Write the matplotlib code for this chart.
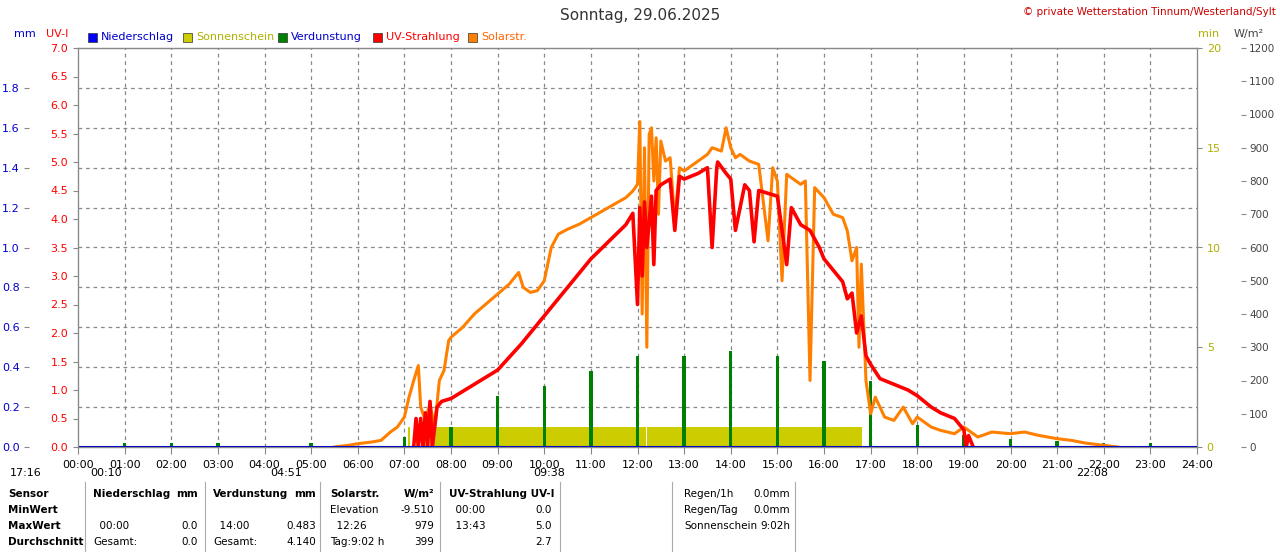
import numpy as np
import matplotlib
matplotlib.use("Agg")
import matplotlib.pyplot as plt

# ---- data (hours of day) ----
hours = list(range(25))
hour_labels = [f"{h:02d}:00" for h in hours]

evap_t = [1, 2, 3, 5, 7, 8, 9, 10, 11, 12, 13, 14, 15, 16, 17, 18, 19, 20, 21, 22, 23]
evap_mm = [0.02, 0.02, 0.02, 0.02, 0.05, 0.10, 0.255, 0.305, 0.38, 0.455, 0.455, 0.483,
           0.455, 0.43, 0.33, 0.11, 0.06, 0.04, 0.03, 0.02, 0.02]

sun_start = [7.08, 7.25, 7.38, 7.55, 12.2]
sun_end = [7.13, 7.33, 7.52, 12.18, 16.82]
sun_min = [1, 1, 1, 1, 1]

solar_t = [5.5, 5.8, 6.0, 6.3, 6.5, 6.7, 6.85, 7.0, 7.1, 7.2, 7.3, 7.35, 7.45, 7.55, 7.65,
           7.75, 7.85, 7.95, 8.0, 8.25, 8.5, 8.75, 9.0, 9.25, 9.45, 9.55, 9.7, 9.85, 10.0,
           10.15, 10.3, 10.5, 10.75, 11.0, 11.25, 11.5, 11.75, 11.9, 12.0, 12.05, 12.1,
           12.15, 12.2, 12.25, 12.3, 12.35, 12.4, 12.45, 12.5, 12.6, 12.7, 12.8, 12.9,
           13.0, 13.2, 13.4, 13.5, 13.6, 13.8, 13.9, 14.0, 14.1, 14.2, 14.4, 14.6, 14.8,
           14.9, 15.0, 15.1, 15.2, 15.3, 15.5, 15.6, 15.7, 15.8, 16.0, 16.2, 16.4, 16.5,
           16.6, 16.7, 16.75, 16.8, 16.9, 17.0, 17.1, 17.3, 17.5, 17.7, 17.9, 18.0, 18.3,
           18.5, 18.8, 19.0, 19.3, 19.6, 20.0, 20.3, 20.6, 21.0, 21.3, 21.6, 22.0, 22.3]
solar_w = [0, 5, 10, 15, 20, 45, 60, 90, 150, 200, 245, 120, 80, 130, 60, 200, 230, 320,
           330, 360, 400, 430, 460, 490, 525, 480, 465, 470, 500, 600, 640, 655, 670, 690,
           710, 730, 750, 770, 790, 979, 400, 900, 300, 940, 960, 800, 930, 700, 920, 860,
           870, 680, 840, 830, 850, 870, 880, 900, 890, 960, 900, 870, 880, 860, 850, 620,
           840, 800, 500, 820, 810, 790, 800, 200, 780, 750, 700, 690, 650, 560, 600, 300,
           550, 200, 100, 150, 90, 80, 120, 70, 90, 60, 50, 40, 60, 30, 45, 40, 45, 35, 25,
           20, 12, 5, 0]

uv_t = [7.2, 7.25, 7.3, 7.35, 7.4, 7.45, 7.5, 7.55, 7.6, 7.7, 7.8, 8.0, 8.5, 9.0, 9.5,
        10.0, 10.5, 11.0, 11.5, 11.75, 11.9, 12.0, 12.05, 12.1, 12.15, 12.2, 12.3,
        12.35, 12.4, 12.5, 12.7, 12.8, 12.9, 13.0, 13.3, 13.5, 13.6, 13.7, 13.72,
        13.9, 14.0, 14.1, 14.3, 14.4, 14.5, 14.6, 14.8, 15.0, 15.2, 15.3, 15.5, 15.7,
        15.9, 16.0, 16.2, 16.4, 16.5, 16.6, 16.7, 16.8, 16.9, 17.0, 17.2, 17.5, 17.8,
        18.0, 18.3, 18.5, 18.8, 19.0, 19.05, 19.1, 19.2]
uv_v = [0.0, 0.5, 0.0, 0.5, 0.0, 0.6, 0.0, 0.8, 0.0, 0.7, 0.8, 0.85, 1.1, 1.35, 1.8,
        2.3, 2.8, 3.3, 3.7, 3.9, 4.1, 2.5, 4.2, 3.0, 4.3, 3.5, 4.4, 3.2, 4.5, 4.6, 4.7,
        3.8, 4.75, 4.7, 4.8, 4.9, 3.5, 4.9, 5.0, 4.8, 4.7, 3.8, 4.6, 4.5, 3.6, 4.5, 4.45,
        4.4, 3.2, 4.2, 3.9, 3.8, 3.5, 3.3, 3.1, 2.9, 2.6, 2.7, 2.0, 2.3, 1.6, 1.45, 1.2,
        1.1, 1.0, 0.9, 0.7, 0.6, 0.5, 0.3, 0.0, 0.2, 0.0]

# ---- figure ----
fig = plt.figure(figsize=(12.8, 5.52), dpi=100)
plt.rcParams['font.family'] = 'DejaVu Sans'
L, B, W, H = 78/1280, 1-447/552, (1197-78)/1280, (447-48)/552
ax_min = fig.add_axes([L, B, W, H])   # sunshine minutes (right, inner)
ax_mm = ax_min.twinx()                # evaporation mm (left, outer)
ax_w = ax_min.twinx()                 # solar W/m2 (right, outer)
ax_uv = ax_min.twinx()                # UV index (left, inner)
for i, a in enumerate([ax_min, ax_mm, ax_w, ax_uv]):
    a.set_zorder(i + 1)
    a.patch.set_visible(False)
    a.set_xlim(0, 24)
    for s in a.spines.values():
        s.set_color("#888888")

ax_min.set_ylim(0, 20)
ax_mm.set_ylim(0, 2.0)
ax_w.set_ylim(0, 1200)
ax_uv.set_ylim(0, 7)

# grid
for y in np.arange(2, 20, 2):
    ax_min.axhline(y, color="#888888", ls=(0, (3, 3)), lw=0.9, zorder=0)
for h in hours[1:-1]:
    ax_min.axvline(h, color="#888888", ls=(0, (3, 3)), lw=0.9, zorder=0)

# data
ax_min.bar(sun_start, sun_min, width=np.array(sun_end) - np.array(sun_start),
           align="edge", color="#cccc00", zorder=2)
ax_mm.bar(evap_t, evap_mm, width=0.07, color="#008000")
ax_w.plot(solar_t, solar_w, color="#ff8000", lw=2.2)
ax_uv.plot(uv_t, uv_v, color="#ff0000", lw=2.6)
ax_uv.axhline(0, color="#0000cc", lw=1.5)

# axes ticks
ax_min.set_xticks(hours)
ax_min.set_xticklabels(hour_labels, fontsize=8)
ax_min.tick_params(axis="x", length=5, color="#888888", pad=4)
ax_min.yaxis.tick_right()
ax_min.set_yticks([0, 5, 10, 15, 20])
ax_min.tick_params(axis="y", labelcolor="#b0b000", labelsize=8, color="#888888")

ax_mm.yaxis.tick_left()
ax_mm.spines["left"].set_position(("outward", 35))
ax_mm.spines["left"].set_visible(False)
ax_mm.set_yticks(np.round(np.arange(0, 2.0, 0.2), 1))
ax_mm.set_yticklabels([f"{v:.1f}" for v in np.arange(0, 2.0, 0.2)])
ax_mm.tick_params(axis="y", labelcolor="#0000cc", labelsize=8, color="#888888")

ax_w.spines["right"].set_position(("outward", 32))
ax_w.spines["right"].set_visible(False)
ax_w.set_yticks(range(0, 1201, 100))
ax_w.tick_params(axis="y", labelcolor="#444444", labelsize=7.5, color="#888888", pad=2)

ax_uv.yaxis.tick_left()
ax_uv.set_yticks(np.arange(0, 7.01, 0.5))
ax_uv.set_yticklabels([f"{v:.1f}" for v in np.arange(0, 7.01, 0.5)])
ax_uv.tick_params(axis="y", labelcolor="#ff0000", labelsize=8, color="#888888")
for a in [ax_mm, ax_w, ax_uv]:
    a.tick_params(axis="x", bottom=False, labelbottom=False)

# titles & legend
fig.text(0.5, 0.972, "Sonntag, 29.06.2025", ha="center", va="center", fontsize=11, color="#333333")
fig.text(0.997, 0.978, "© private Wetterstation Tinnum/Westerland/Sylt", ha="right",
         va="center", fontsize=7.5, color="#cc0000")
fig.text(14/1280, 1-34/552, "mm", color="#0000cc", fontsize=8, va="center")
fig.text(46/1280, 1-34/552, "UV-I", color="#ff0000", fontsize=8, va="center")
fig.text(1198/1280, 1-34/552, "min", color="#b0b000", fontsize=8, va="center")
fig.text(1234/1280, 1-34/552, "W/m²", color="#444444", fontsize=8, va="center")
leg = [(88, "#0000ff", "Niederschlag", "#0000cc"), (183, "#cccc00", "Sonnenschein", "#b0b000"),
       (278, "#008000", "Verdunstung", "#0000cc"), (373, "#ff0000", "UV-Strahlung", "#ff0000"),
       (468, "#ff8000", "Solarstr.", "#ff6600")]
for x, c, lab, tc in leg:
    fig.patches.append(plt.Rectangle((x/1280, 1-42/552), 9/1280, 9/552, transform=fig.transFigure,
                                     facecolor=c, edgecolor="#333333", lw=0.5))
    fig.text((x+13)/1280, 1-37/552, lab, color=tc, fontsize=8, va="center")

# sun/moon times
for x, t in [(10, "17:16"), (90, "00:10"), (270, "04:51"), (533, "09:38"), (1076, "22:08")]:
    fig.text(x/1280, 1-473/552, t, fontsize=8, va="center")

# bottom table
rows_y = [494, 510, 526, 542]
cells = [
    (8, ["Sensor", "MinWert", "MaxWert", "Durchschnitt"], "left"),
    (93, ["Niederschlag", "", "  00:00", "Gesamt:"], "left"),
    (198, ["mm", "", "0.0", "0.0"], "right"),
    (213, ["Verdunstung", "", "  14:00", "Gesamt:"], "left"),
    (316, ["mm", "", "0.483", "4.140"], "right"),
    (330, ["Solarstr.", "Elevation", "  12:26", "Tag:9:02 h"], "left"),
    (434, ["W/m²", "-9.510", "979", "399"], "right"),
    (449, ["UV-Strahlung UV-I", "  00:00", "  13:43", ""], "left"),
    (552, ["", "0.0", "5.0", "2.7"], "right"),
]
for x, texts, ha in cells:
    for i, (y, t) in enumerate(zip(rows_y, texts)):
        bold = (i == 0) or (x == 8)
        fig.text(x/1280, 1-y/552, t, ha=ha, va="center", fontsize=7.5,
                 fontweight="bold" if bold else "normal")
for y, t, v in zip([494, 510, 526], ["Regen/1h", "Regen/Tag", "Sonnenschein"], ["0.0mm", "0.0mm", "9:02h"]):
    fig.text(684/1280, 1-y/552, t, fontsize=7.5, va="center")
    fig.text(790/1280, 1-y/552, v, fontsize=7.5, va="center", ha="right")
for x in [85, 205, 320, 440, 560, 672, 795]:
    fig.add_artist(plt.Line2D([x/1280, x/1280], [0, 1-482/552], color="#aaaaaa", lw=0.8))

fig.savefig("out.png", dpi=100, facecolor="white")
